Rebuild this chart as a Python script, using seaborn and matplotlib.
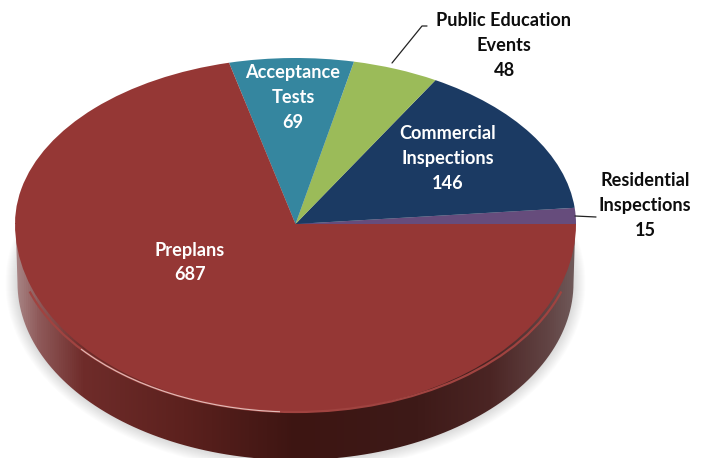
import numpy as np
import matplotlib
matplotlib.use("Agg")
import matplotlib.pyplot as plt
from matplotlib.colors import LinearSegmentedColormap
from matplotlib.patches import Ellipse, Arc, Polygon
import seaborn as sns

sns.set_theme(style="white")
plt.rcParams["font.family"] = ["Lato", "DejaVu Sans"]

categories = ["Residential\nInspections", "Commercial\nInspections", "Public Education\nEvents",
              "Acceptance\nTests", "Preplans"]
values = [15, 146, 48, 69, 687]
colors = sns.color_palette(["#664C7C", "#1B3A63", "#9BBB59", "#35869F", "#953735"])
label_xy = [(645, 205.5), (448, 158.5), (504, 45.5), (293, 97.5), (190, 262.5)]
label_color = ["#0d0d0d", "white", "#0d0d0d", "white", "white"]

W, H = 705, 458
LEFT, RIGHT, TOP, MID, BOTTOM = 15, 576, 58, 224, 412
cx = (LEFT + RIGHT) / 2


def pixel_axes(x0, y0, x1, y1, zorder):
    return fig.add_axes([x0 / W, 1 - y1 / H, (x1 - x0) / W, (y1 - y0) / H], zorder=zorder)


fig = plt.figure(figsize=(W / 100, H / 100), dpi=100, facecolor="white")

# background layer, pixel coords: shadow and extruded side
bg = pixel_axes(0, 0, W, H, 0)
bg.set_xlim(0, W)
bg.set_ylim(H, 0)
bg.axis("off")

for grow in range(1, 13):
    bg.add_patch(Ellipse((cx, 283), 2 * 278 + 2 * grow, 2 * 177 + 2 * grow, color="black", alpha=0.012, lw=0))

a = np.linspace(0, np.pi, 120)
side = np.r_[np.c_[cx + 278 * np.cos(a), 283 + 177 * np.sin(a)],
             [[LEFT + 1, 235]], [[RIGHT - 1, 235]]]
side_cmap = LinearSegmentedColormap.from_list(
    "side",
    [(0.0, "#a98686"), (0.04, "#8f5a5a"), (0.12, "#6f2c2a"), (0.3, "#5c211e"), (0.5, "#3d1512"),
     (0.72, "#3e1a18"), (0.85, "#4b2524"), (0.95, "#614343"), (1.0, "#705a5a")],
)
gradient = np.linspace(0, 1, 512).reshape(1, -1)
img = bg.imshow(gradient, cmap=side_cmap, extent=(LEFT, RIGHT, H, 200), aspect="auto", zorder=2)
clip = Polygon(side, transform=bg.transData, closed=True, fc="none", ec="none")
bg.add_patch(clip)
img.set_clip_path(clip)
bg.set_xlim(0, W)
bg.set_ylim(H, 0)

# pie top: front half is taller than the back half (perspective)
low = pixel_axes(LEFT, MID - 1, RIGHT, BOTTOM, 2)
up = pixel_axes(LEFT, TOP, RIGHT, MID, 3)
for ax, ylim in [(low, (-1, 1 / (BOTTOM - MID))), (up, (0, 1))]:
    ax.pie(values, colors=colors, startangle=0, counterclock=True, radius=1,
           wedgeprops={"linewidth": 0, "clip_on": True})
    ax.set_aspect("auto")
    ax.set_xlim(-1, 1)
    ax.set_ylim(*ylim)
    ax.patch.set_alpha(0)

# overlay: rim highlight, leader lines, labels
over = pixel_axes(0, 0, W, H, 4)
over.set_xlim(0, W)
over.set_ylim(H, 0)
over.axis("off")
over.patch.set_alpha(0)

over.add_patch(Arc((cx, 235), 2 * 280.5, 2 * 177, theta1=12, theta2=168, color="#a04340", lw=1.6))
over.add_patch(Arc((cx, 235), 2 * 280.5, 2 * 177, theta1=95, theta2=152, color="#e2bcb8", lw=0.8))

over.plot([392, 422, 427], [63, 26, 26], color="#222222", lw=0.9)
over.plot([575, 596], [216, 217], color="#222222", lw=0.9)

for name, val, (x, y), col in zip(categories, values, label_xy, label_color):
    over.text(x, y, f"{name}\n{val}", color=col, ha="center", va="center", fontsize=13.1,
              fontweight="bold", linespacing=1.56)

fig.savefig("out.png", dpi=100, facecolor="white")
